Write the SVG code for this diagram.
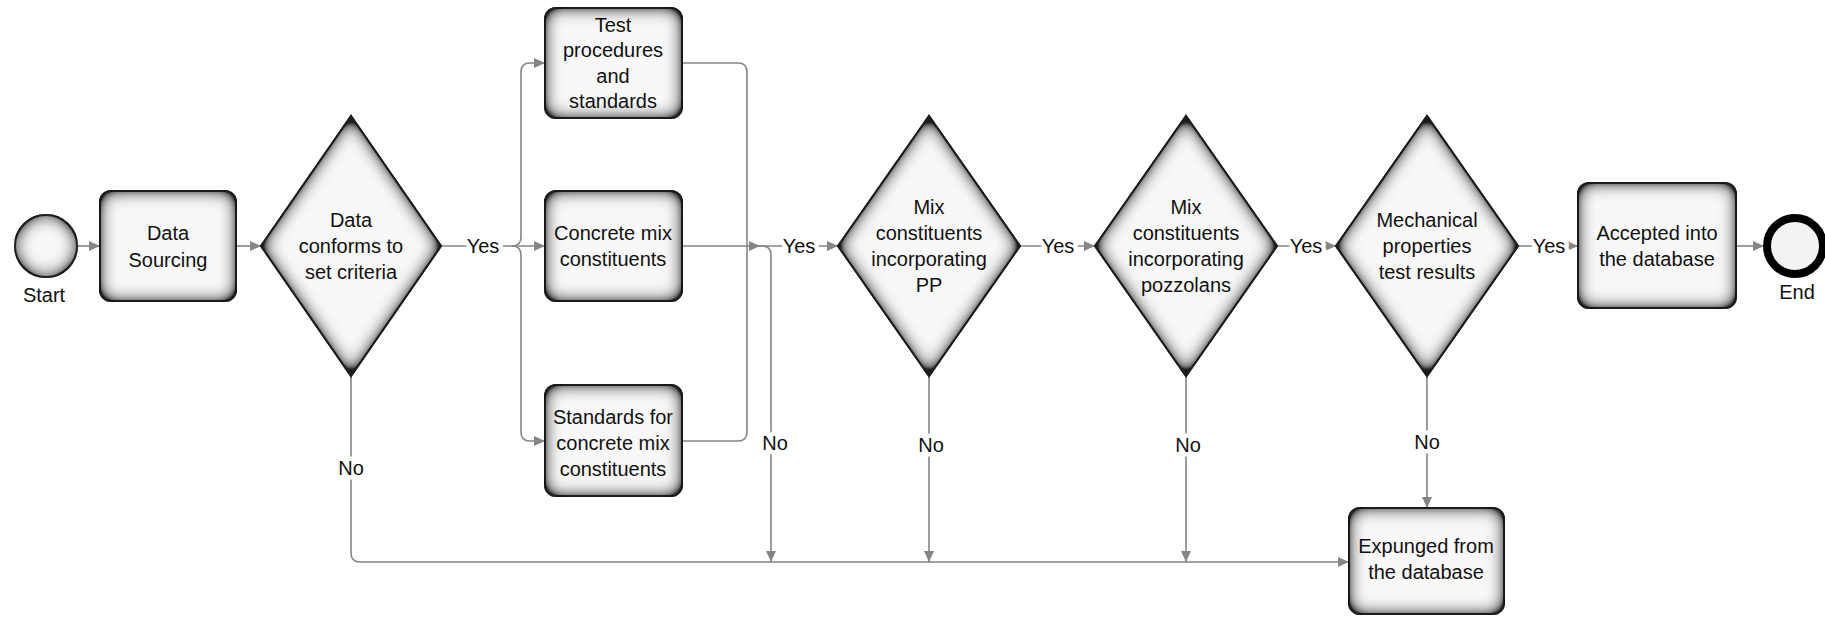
<svg xmlns="http://www.w3.org/2000/svg" width="1825" height="617" viewBox="0 0 1825 617">
<style>
  text { font-family: "Liberation Sans", Arial, sans-serif; font-size: 20px; fill: #111; text-anchor: middle; }
  .shape { fill: #f8f8f8; stroke: #333; stroke-width: 2; filter: url(#inset); }
  .conn { fill: none; stroke: #858585; stroke-width: 1.6; }
  .arr { marker-end: url(#ah); }
  .lbl { stroke: #fff; stroke-width: 9; paint-order: stroke; stroke-linejoin: round; }
</style>
<defs>
  <filter id="inset" x="-15%" y="-15%" width="130%" height="130%">
    <feFlood flood-color="#1a1a1a" result="f"/>
    <feComposite in="f" in2="SourceAlpha" operator="out" result="o"/>
    <feGaussianBlur in="o" stdDeviation="9" result="b"/>
    <feComponentTransfer in="b" result="b2">
      <feFuncA type="linear" slope="1.9" intercept="0"/>
    </feComponentTransfer>
    <feComposite in="b2" in2="SourceAlpha" operator="in" result="s"/>
    <feMerge><feMergeNode in="SourceGraphic"/><feMergeNode in="s"/></feMerge>
  </filter>
  <marker id="ah" markerUnits="userSpaceOnUse" markerWidth="12" markerHeight="10" refX="11" refY="5" orient="auto">
    <path d="M0,0 L11,5 L0,10 z" fill="#858585"/>
  </marker>
</defs>
<rect width="1825" height="617" fill="#fff"/>

<g id="connectors">
  <path class="conn arr" d="M77,246 H100"/>
  <path class="conn arr" d="M236,246 H261"/>
  <path class="conn arr" d="M441,246 H545"/>
  <path class="conn arr" d="M512,246 Q521,246 521,237 V72 Q521,63 530,63 H545"/>
  <path class="conn arr" d="M512,246 Q521,246 521,255 V432 Q521,441 530,441 H545"/>
  <path class="conn" d="M682,63 H738 Q747,63 747,72 V246"/>
  <path class="conn" d="M682,441 H738 Q747,441 747,432 V246"/>
  <path class="conn arr" d="M682,246 H760"/>
  <path class="conn arr" d="M758,246 H838"/>
  <path class="conn arr" d="M758,246 H762 Q771,246 771,255 V562"/>
  <path class="conn arr" d="M351,376 V553 Q351,562 360,562 H1349"/>
  <path class="conn arr" d="M929,376 V562"/>
  <path class="conn arr" d="M1186,376 V562"/>
  <path class="conn arr" d="M1427,376 V508"/>
  <path class="conn arr" d="M1020,246 H1095"/>
  <path class="conn arr" d="M1277,246 H1336"/>
  <path class="conn arr" d="M1518,246 H1578"/>
  <path class="conn arr" d="M1736,246 H1764"/>
  <text class="lbl" x="483" y="253">Yes</text>
  <text class="lbl" x="799" y="253">Yes</text>
  <text class="lbl" x="1058" y="253">Yes</text>
  <text class="lbl" x="1306" y="253">Yes</text>
  <text class="lbl" x="1549" y="253">Yes</text>
  <text class="lbl" x="351" y="475">No</text>
  <text class="lbl" x="775" y="450">No</text>
  <text class="lbl" x="931" y="452">No</text>
  <text class="lbl" x="1188" y="452">No</text>
  <text class="lbl" x="1427" y="449">No</text>
</g>

<g id="start">
  <circle class="shape" cx="46" cy="246" r="31"/>
  <text x="44" y="302">Start</text>
</g>
<g id="data-sourcing">
  <rect class="shape" x="100" y="191" width="136" height="110" rx="11"/>
  <text x="168" y="240">Data</text>
  <text x="168" y="267">Sourcing</text>
</g>
<g id="criteria">
  <polygon class="shape" points="261,246 351,116 441,246 351,376"/>
  <text x="351" y="227">Data</text>
  <text x="351" y="253">conforms to</text>
  <text x="351" y="279">set criteria</text>
</g>
<g id="test-procedures">
  <rect class="shape" x="545" y="8" width="137" height="110" rx="11"/>
  <text x="613" y="32">Test</text>
  <text x="613" y="57">procedures</text>
  <text x="613" y="83">and</text>
  <text x="613" y="108">standards</text>
</g>
<g id="mix-constituents">
  <rect class="shape" x="545" y="191" width="137" height="110" rx="11"/>
  <text x="613" y="240">Concrete mix</text>
  <text x="613" y="266">constituents</text>
</g>
<g id="standards-mix">
  <rect class="shape" x="545" y="385" width="137" height="111" rx="11"/>
  <text x="613" y="424">Standards for</text>
  <text x="613" y="450">concrete mix</text>
  <text x="613" y="476">constituents</text>
</g>
<g id="pp">
  <polygon class="shape" points="838,246 929,116 1020,246 929,376"/>
  <text x="929" y="214">Mix</text>
  <text x="929" y="240">constituents</text>
  <text x="929" y="266">incorporating</text>
  <text x="929" y="292">PP</text>
</g>
<g id="pozzolans">
  <polygon class="shape" points="1095,246 1186,116 1277,246 1186,376"/>
  <text x="1186" y="214">Mix</text>
  <text x="1186" y="240">constituents</text>
  <text x="1186" y="266">incorporating</text>
  <text x="1186" y="292">pozzolans</text>
</g>
<g id="mechanical">
  <polygon class="shape" points="1336,246 1427,116 1518,246 1427,376"/>
  <text x="1427" y="227">Mechanical</text>
  <text x="1427" y="253">properties</text>
  <text x="1427" y="279">test results</text>
</g>
<g id="accepted">
  <rect class="shape" x="1578" y="183" width="158" height="125" rx="11"/>
  <text x="1657" y="240">Accepted into</text>
  <text x="1657" y="266">the database</text>
</g>
<g id="expunged">
  <rect class="shape" x="1349" y="508" width="155" height="106" rx="11"/>
  <text x="1426" y="553">Expunged from</text>
  <text x="1426" y="579">the database</text>
</g>
<g id="end">
  <circle cx="1795" cy="246" r="28" fill="#f3f3f3" stroke="#000" stroke-width="8"/>
  <text x="1797" y="299">End</text>
</g>
</svg>
